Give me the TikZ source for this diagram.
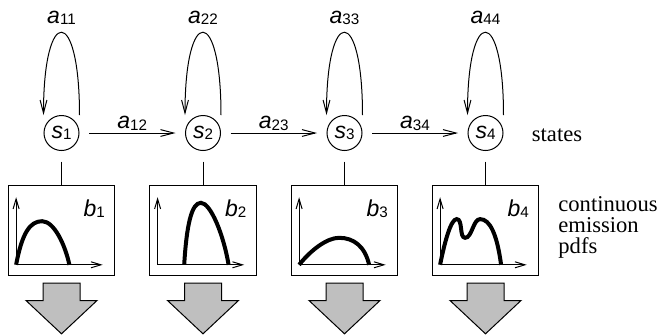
\documentclass[tikz,border=0pt]{standalone}
\usepackage{fontspec}
\setmainfont{Liberation Serif}
\setsansfont{Liberation Sans}
\usetikzlibrary{arrows.meta,calc,positioning}

% italic sans letter with upright index
\newcommand{\hmmlab}[2]{\textsf{\itshape #1}\raisebox{-0.8pt}{\textsf{\fontsize{7.6}{8}\selectfont #2}}}

\begin{document}
\begin{tikzpicture}[x=0.5pt,y=-0.5pt,
  state/.style={circle,draw,line width=0.5pt,minimum size=17.5pt,inner sep=0pt,font=\fontsize{11.5}{13}\selectfont},
  pdfbox/.style={draw,line width=0.5pt,minimum width=53.3pt,minimum height=45pt,inner sep=0pt},
  trans/.style={line width=0.5pt,-{Straight Barb[length=6.5pt,width=3.4pt]}},
  axis/.style={line width=0.5pt,-{Straight Barb[length=5pt,width=3pt]}},
  pdfcurve/.style={line width=2pt},
  emit/.style={draw,line width=0.5pt,fill=black!25},
  lab/.style={font=\fontsize{11.5}{13}\selectfont,inner sep=0pt},
  side/.style={font=\fontsize{11.3}{10.5}\selectfont,inner sep=0pt}]
\useasboundingbox (0,0) rectangle (660,334);

% States, self loops and pdf boxes
\foreach \i/\x in {1/61.5,2/203,3/344.5,4/485.5} {
    \node[state] (s\i) at (\x,133) {\hmmlab{s}{\i}};
    \draw[trans] ($(s\i.north)+(18,0)$) .. controls +(0,-110) and +(0,-110) .. ($(s\i.north)+(-18,0)$);
    \node[lab,anchor=base] (a\i\i) at ($(s\i.north)+(0,-92)$) {\hmmlab{a}{\i\i}};
    \node[pdfbox] (b\i) at (\x,230) {};
    \draw[line width=0.5pt,shorten <=5.25pt] (s\i.south) -- (b\i.north);
    \node[lab,anchor=base east] (lb\i) at ($(b\i.north east)+(-10,31.7)$) {\hmmlab{b}{\i}};
    % axes
    \coordinate (o\i) at ($(b\i.south west)+(8.4,-10.7)$);
    \draw[axis] (o\i) -- ++(0,-67.6);
    \draw[axis] (o\i) -- ++(86.6,0);
    % output arrow
    \draw[emit,shift={(b\i.south)}] (-18.5,7.5) -- (18.5,7.5) -- (18.5,25) -- (35.5,25)
        -- (0,58.3) -- (-35.5,25) -- (-18.5,25) -- cycle;
}

% Transitions
\foreach \i/\j in {1/2,2/3,3/4} {
    \draw[trans,shorten <=4.75pt,shorten >=4.75pt] (s\i) -- node[lab,midway,anchor=base,yshift=2.2pt] (a\i\j) {\hmmlab{a}{\i\j}} (s\j);
}

% Emission curves
\draw[pdfcurve,shift={(o1)}] (0,0) .. controls (6,-32) and (14,-43.6) .. (26,-43.6)
    .. controls (38,-43.6) and (49,-20) .. (53.3,0);
\draw[pdfcurve,shift={(o2)}] (26.6,0) .. controls (29,-40) and (34,-62) .. (43.3,-62)
    .. controls (53,-62) and (66,-30) .. (71,0);
\draw[pdfcurve,shift={(o3)}] (0,0) .. controls (12,-15) and (28,-27) .. (40,-27)
    .. controls (55,-27) and (66,-18) .. (70,0);
\draw[pdfcurve,shift={(o4)}] (0,0) .. controls (5,-25) and (11,-45.7) .. (16.6,-45.7)
    .. controls (23,-45.7) and (19,-27) .. (25,-27)
    .. controls (32,-27) and (33,-45.7) .. (40,-45.7)
    .. controls (50,-45.7) and (57,-30) .. (61,0);

% Side texts
\node[side,anchor=base west] (tstates) at (531.5,141.7) {states};
\node[side,anchor=base west,align=left] (temission) at (558,253) {continuous\\emission\\pdfs};
\end{tikzpicture}
\end{document}
